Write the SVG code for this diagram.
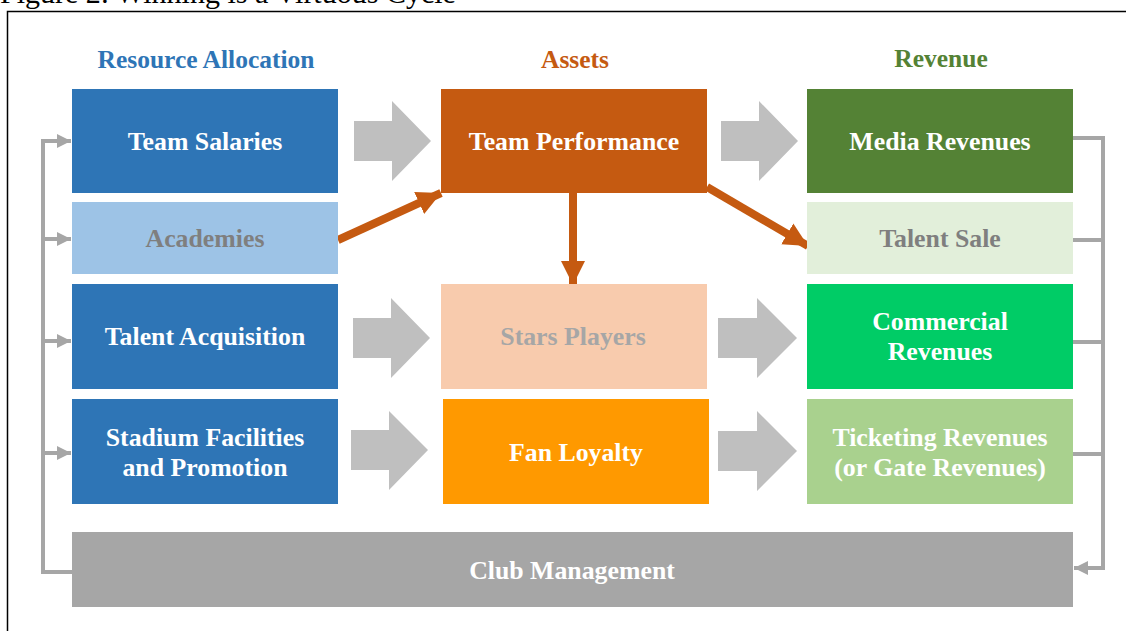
<svg xmlns="http://www.w3.org/2000/svg" width="1126" height="631" viewBox="0 0 1126 631">
<defs>
<style>
.t{font-family:'Liberation Serif',serif;font-weight:700;font-size:25.8px;text-anchor:middle;fill:#ffffff}
.h{font-family:'Liberation Serif',serif;font-weight:700;font-size:25.5px;text-anchor:middle}
.g{fill:#bfbfbf}
.c{fill:none;stroke:#a6a6a6;stroke-width:4}
.o{stroke:#c55a11;stroke-width:8;fill:none}
</style>
<marker id="oa" markerUnits="userSpaceOnUse" markerWidth="26" markerHeight="26" viewBox="0 0 26 26" refX="24" refY="13" orient="auto">
<path d="M0,1 L24,13 L0,25 Z" fill="#c55a11"/>
</marker>
<marker id="ga" markerUnits="userSpaceOnUse" markerWidth="16" markerHeight="16" viewBox="0 0 16 16" refX="14" refY="8" orient="auto">
<path d="M0,1 L14,8 L0,15 Z" fill="#a6a6a6"/>
</marker>
</defs>
<rect width="1126" height="631" fill="#ffffff"/>
<text x="0" y="3" font-family="Liberation Serif, serif" font-size="30" fill="#000">Figure 2: Winning is a Virtuous Cycle</text>
<rect x="7.5" y="11.5" width="1130" height="640" fill="none" stroke="#000" stroke-width="1.5"/>

<g font-family="Liberation Serif, serif">
<text class="h" x="206" y="68" fill="#2e75b6">Resource Allocation</text>
<text class="h" x="575" y="68" fill="#c55a11">Assets</text>
<text class="h" x="941" y="67" fill="#548235">Revenue</text>
</g>

<g id="connectors">
<polygon class="g" points="354,121 392,121 392,101 431,141 392,181 392,161 354,161"/>
<polygon class="g" points="353,318 391,318 391,298 430,338 391,378 391,358 353,358"/>
<polygon class="g" points="351,430 389,430 389,411 428,450 389,490 389,470 351,470"/>
<polygon class="g" points="721,121 759,121 759,101 798,141 759,181 759,161 721,161"/>
<polygon class="g" points="718,318 757,318 757,298 797,338 757,378 757,358 718,358"/>
<polygon class="g" points="718,431 757,431 757,411 797,451 757,491 757,471 718,471"/>
<line class="o" x1="338" y1="240" x2="441" y2="193" marker-end="url(#oa)"/>
<line class="o" x1="573" y1="193" x2="573" y2="285" marker-end="url(#oa)"/>
<line class="o" x1="707" y1="187" x2="808" y2="246" marker-end="url(#oa)"/>
<path class="c" d="M72,572 H43 V141"/>
<line class="c" x1="41" y1="141" x2="71" y2="141" marker-end="url(#ga)"/>
<line class="c" x1="43" y1="239" x2="71" y2="239" marker-end="url(#ga)"/>
<line class="c" x1="43" y1="341" x2="71" y2="341" marker-end="url(#ga)"/>
<line class="c" x1="43" y1="453" x2="71" y2="453" marker-end="url(#ga)"/>
<path class="c" d="M1073,138 H1103 V568"/>
<line class="c" x1="1073" y1="240" x2="1103" y2="240"/>
<line class="c" x1="1073" y1="342" x2="1103" y2="342"/>
<line class="c" x1="1073" y1="454" x2="1103" y2="454"/>
<line class="c" x1="1105" y1="568" x2="1074" y2="568" marker-end="url(#ga)"/>
</g>

<g font-family="Liberation Serif, serif">
<g id="team-salaries"><rect x="72" y="89" width="266" height="104" fill="#2e75b6"/><text class="t" x="205" y="150">Team Salaries</text></g>
<g id="academies"><rect x="72" y="202" width="266" height="72" fill="#9dc3e6"/><text class="t" x="205" y="247" style="fill:#7f7f7f">Academies</text></g>
<g id="talent-acquisition"><rect x="72" y="284" width="266" height="105" fill="#2e75b6"/><text class="t" x="205" y="345">Talent Acquisition</text></g>
<g id="stadium"><rect x="72" y="399" width="266" height="105" fill="#2e75b6"/><text class="t" x="205" y="446">Stadium Facilities</text><text class="t" x="205" y="476">and Promotion</text></g>

<g id="team-performance"><rect x="441" y="89" width="266" height="104" fill="#c55a11"/><text class="t" x="574" y="150">Team Performance</text></g>
<g id="stars-players"><rect x="441" y="284" width="266" height="105" fill="#f8cbad"/><text class="t" x="573" y="345" style="fill:#a6a6a6">Stars Players</text></g>
<g id="fan-loyalty"><rect x="443" y="399" width="266" height="105" fill="#ff9900"/><text class="t" x="576" y="461">Fan Loyalty</text></g>

<g id="media-revenues"><rect x="807" y="89" width="266" height="104" fill="#548235"/><text class="t" x="940" y="150">Media Revenues</text></g>
<g id="talent-sale"><rect x="807" y="202" width="266" height="72" fill="#e2efda"/><text class="t" x="940" y="247" style="fill:#7f7f7f">Talent Sale</text></g>
<g id="commercial-revenues"><rect x="807" y="284" width="266" height="105" fill="#00cc66"/><text class="t" x="940" y="330">Commercial</text><text class="t" x="940" y="360">Revenues</text></g>
<g id="ticketing-revenues"><rect x="807" y="399" width="266" height="105" fill="#a9d18e"/><text class="t" x="940" y="446">Ticketing Revenues</text><text class="t" x="940" y="476">(or Gate Revenues)</text></g>

<g id="club-management"><rect x="72" y="532" width="1001" height="75" fill="#a6a6a6"/><text class="t" x="572" y="579">Club Management</text></g>
</g>
</svg>
